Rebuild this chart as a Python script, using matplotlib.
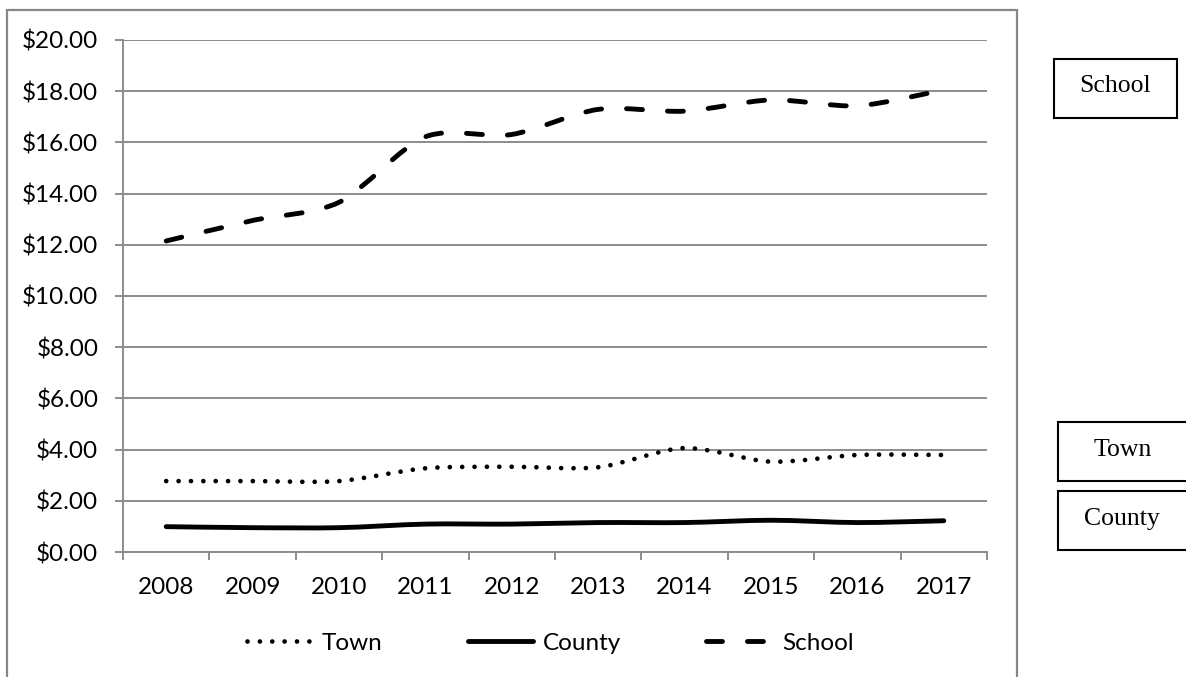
import matplotlib
matplotlib.use('Agg')
import matplotlib.pyplot as plt
from matplotlib.path import Path
from matplotlib.patches import PathPatch, Rectangle
from matplotlib.lines import Line2D
import numpy as np

years = ['2008', '2009', '2010', '2011', '2012', '2013', '2014', '2015', '2016', '2017']
town = [2.77, 2.77, 2.77, 3.27, 3.33, 3.31, 4.06, 3.53, 3.79, 3.79]
county = [0.99, 0.95, 0.95, 1.09, 1.09, 1.15, 1.15, 1.24, 1.15, 1.22]
school = [12.15, 12.95, 13.66, 16.22, 16.31, 17.29, 17.22, 17.66, 17.43, 18.05]
y_ticks = [0, 2, 4, 6, 8, 10, 12, 14, 16, 18, 20]
series_names = ['Town', 'County', 'School']

plt.rcParams['lines.scale_dashes'] = False
plt.rcParams['font.family'] = ['Lato', 'DejaVu Sans']

W, H = 1186, 677
fig = plt.figure(figsize=(W / 100, H / 100), dpi=100)
ax = fig.add_axes([123 / W, 1 - 552 / H, (987 - 123) / W, (552 - 40) / H])

GRAY = '#8c8c8c'


def smooth_path(xs, ys, k=7.0):
    pts = np.column_stack([xs, ys]).astype(float)
    n = len(pts)
    verts = [pts[0]]
    codes = [Path.MOVETO]
    for i in range(n - 1):
        p0 = pts[i - 1] if i > 0 else pts[i]
        p1 = pts[i]
        p2 = pts[i + 1]
        p3 = pts[i + 2] if i + 2 < n else pts[i + 1]
        c1 = p1 + (p2 - p0) / k
        c2 = p2 - (p3 - p1) / k
        verts += [c1, c2, p2]
        codes += [Path.CURVE4] * 3
    return Path(verts, codes)


x = np.arange(len(years))
styles = {
    'Town': dict(linestyle=(0, (0.01, 8.9)), lw=3.4),
    'County': dict(linestyle='-', lw=3.5),
    'School': dict(linestyle=(0, (11.5, 18.0)), lw=3.5),
}
data = {'Town': town, 'County': county, 'School': school}

for name in series_names:
    st = styles[name]
    p = PathPatch(smooth_path(x, data[name]), facecolor='none', edgecolor='black',
                  linewidth=st['lw'], linestyle=st['linestyle'], capstyle='round',
                  joinstyle='round', zorder=3)
    ax.add_patch(p)

ax.set_xlim(-0.5, len(years) - 0.5)
ax.set_ylim(0, 20)
ax.set_yticks(y_ticks)
ax.set_yticklabels(['${:.2f}'.format(v) for v in y_ticks])
ax.set_xticks(x)
ax.set_xticklabels(years)
ax.set_xticks(np.arange(-0.5, len(years), 1.0), minor=True)

for s in ['top', 'right']:
    ax.spines[s].set_visible(False)
for s in ['left', 'bottom']:
    ax.spines[s].set_color(GRAY)
    ax.spines[s].set_linewidth(1.4)

ax.yaxis.grid(True, color=GRAY, linewidth=1.4)
ax.set_axisbelow(True)
ax.tick_params(axis='y', which='major', length=5.8, width=1.4, color=GRAY,
               labelsize=17.5, pad=12)
ax.tick_params(axis='x', which='major', length=0, labelsize=17.5, pad=18)
ax.tick_params(axis='x', which='minor', length=5.8, width=1.4, color=GRAY)

handles = []
for name in series_names:
    st = styles[name]
    h = Line2D([], [], color='black', linewidth=st['lw'], linestyle=st['linestyle'],
               dash_capstyle='round', solid_capstyle='round')
    handles.append(h)
fig.legend(handles, series_names, loc='center', bbox_to_anchor=(550 / W, 1 - 643 / H),
           ncol=3, frameon=False, fontsize=17.5, handlelength=2.7, handletextpad=0.4,
           columnspacing=3.5)

# outer chart border
fig.add_artist(Rectangle((7 / W, -0.02), (1017 - 7) / W, 1 - 10 / H + 0.02,
                         transform=fig.transFigure, facecolor='none',
                         edgecolor='#888888', linewidth=1.6))

# label boxes on the right
boxes = [
    ('School', 1054, 59, 1177, 118, 1115),
    ('Town', 1058, 422, 1200, 481, 1123),
    ('County', 1058, 491, 1200, 550, 1122),
]
for label, x0, y0, x1, y1, tx in boxes:
    fig.add_artist(Rectangle((x0 / W, 1 - y1 / H), (x1 - x0) / W, (y1 - y0) / H,
                             transform=fig.transFigure, facecolor='white',
                             edgecolor='black', linewidth=1.5))
    fig.text(tx / W, 1 - ((y0 + y1) / 2 - 2) / H, label, ha='center', va='center',
             fontsize=18.5, family=['Liberation Serif', 'DejaVu Serif'])

fig.savefig('out.png', dpi=100)
